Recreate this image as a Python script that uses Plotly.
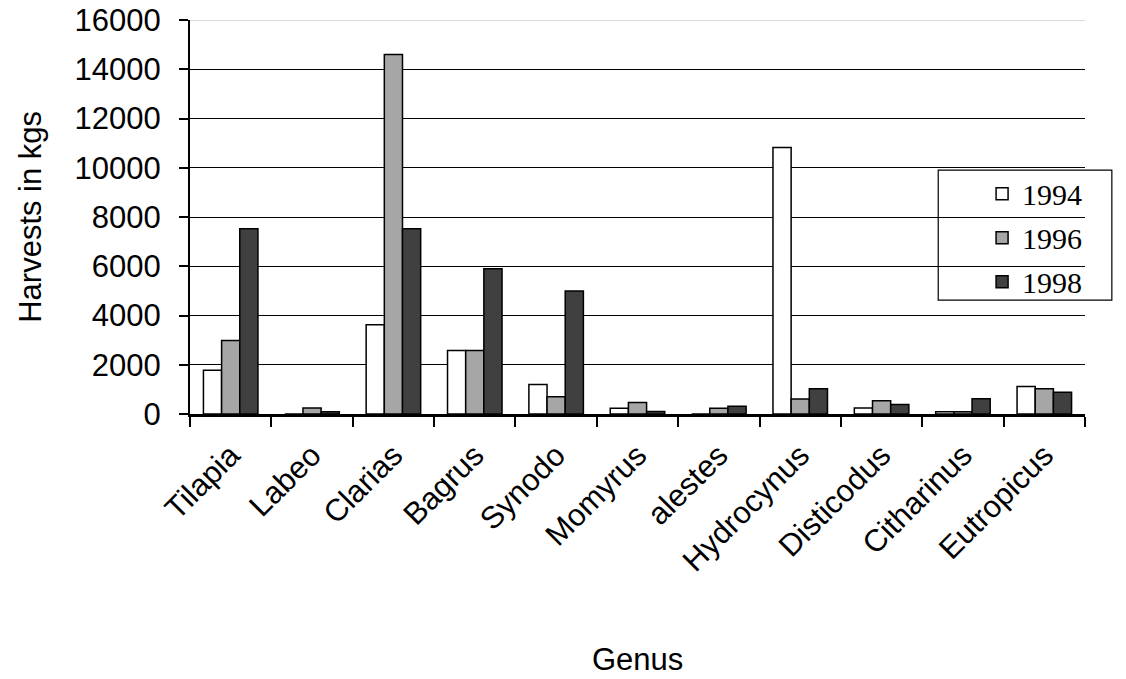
import plotly.graph_objects as go

genus = ["Tilapia", "Labeo", "Clarias", "Bagrus", "Synodo", "Momyrus", "alestes",
         "Hydrocynus", "Disticodus", "Citharinus", "Eutropicus"]
y1994 = [1780, 0, 3620, 2580, 1200, 230, 0, 10820, 240, 90, 1120]
y1996 = [2980, 240, 14600, 2580, 700, 470, 230, 610, 540, 90, 1030]
y1998 = [7520, 90, 7520, 5900, 5000, 100, 310, 1030, 390, 620, 880]
years = ["1994", "1996", "1998"]
colors = ["#ffffff", "#a6a6a6", "#404040"]
y_max = 16000

fig = go.Figure()
for name, vals, col in zip(years, [y1994, y1996, y1998], colors):
    fig.add_trace(go.Bar(x=genus, y=vals, name=name, legendgroup=name,
                         marker=dict(color=col, line=dict(color="black", width=1.5))))

axis_font = dict(family="Liberation Sans, Arial", size=31, color="black")

fig.update_layout(
    width=1126, height=679,
    margin=dict(l=182, r=49, t=12, b=273),
    plot_bgcolor="white", paper_bgcolor="white",
    barmode="group", bargap=0.33, bargroupgap=0,
    showlegend=True,
    legend=dict(x=0.885, y=0.625, xanchor="left", yanchor="top",
                bgcolor="rgba(0,0,0,0)", borderwidth=0,
                font=dict(family="Liberation Serif, Times New Roman", size=30, color="black"),
                tracegroupgap=2),
    xaxis=dict(showline=True, linecolor="black", linewidth=2.5, automargin=False,
               ticks="outside", tickson="boundaries", ticklen=10, tickcolor="black",
               tickwidth=2, tickangle=-45, tickfont=axis_font, showgrid=False,
               ticklabelstandoff=8),
    yaxis=dict(range=[0, y_max], dtick=2000, tickformat="d", showline=True,
               linecolor="black", linewidth=2, ticklabeloverflow="allow", automargin=False,
               ticks="outside", ticklen=9, tickcolor="black", tickwidth=1.5, tickfont=axis_font,
               ticklabelstandoff=12,
               showgrid=True, gridcolor="black", gridwidth=1.2, zeroline=False),
    shapes=[
        dict(type="line", xref="paper", yref="y", x0=0, x1=1, y0=y_max, y1=y_max,
             line=dict(color="#b4b4b4", width=1.2), layer="between"),
        dict(type="rect", xref="paper", yref="paper", x0=0.836, x1=1.030, y0=0.289, y1=0.619,
             line=dict(color="black", width=1.2), fillcolor="white", layer="between"),
    ],
    annotations=[
        dict(text="Genus", xref="paper", yref="paper", x=0.5, y=-0.624,
             xanchor="center", yanchor="middle", showarrow=False, font=axis_font),
        dict(text="Harvests in kgs", xref="paper", yref="paper", x=-0.179, y=0.5,
             xanchor="center", yanchor="middle", textangle=-90, showarrow=False, font=axis_font),
    ],
)

fig.write_html("out.html")
